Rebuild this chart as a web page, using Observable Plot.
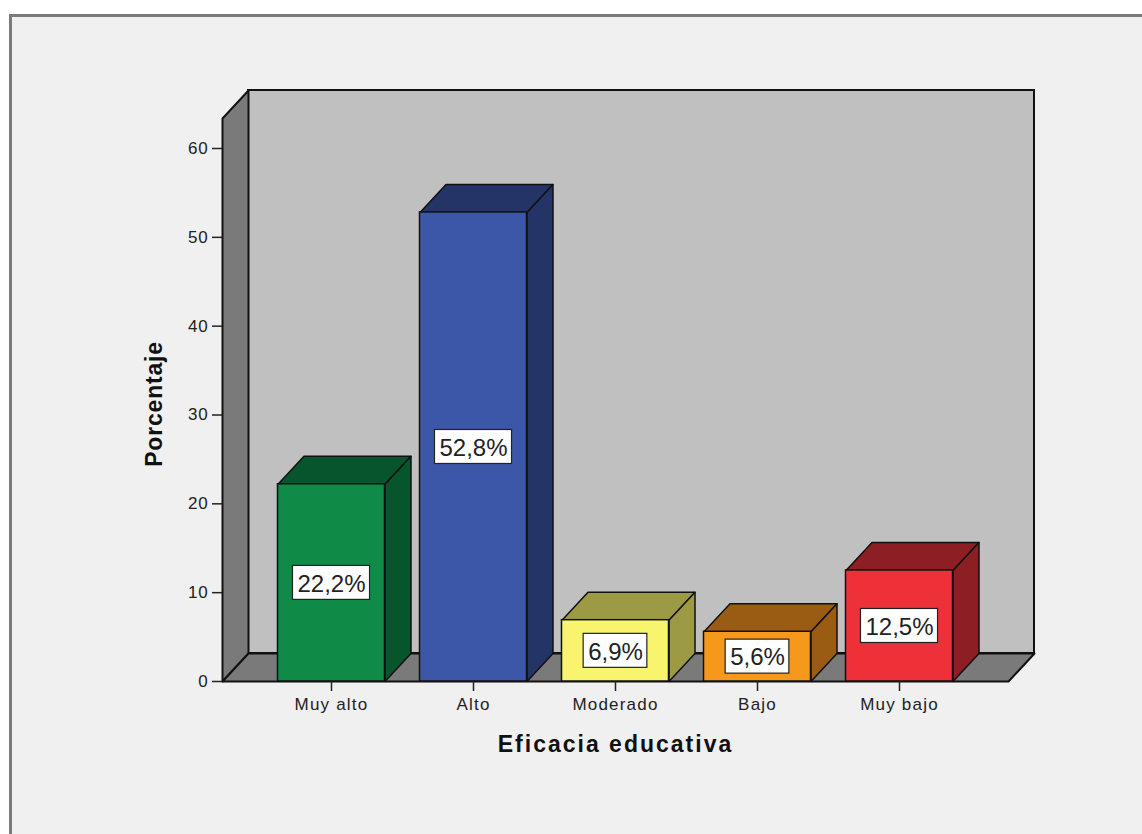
<!DOCTYPE html>
<html>
<head>
<meta charset="utf-8">
<script src="https://cdn.jsdelivr.net/npm/d3@7"></script>
<script src="https://cdn.jsdelivr.net/npm/@observablehq/plot@0.6"></script>
<style>
  html, body { margin: 0; padding: 0; background: #ffffff; overflow: hidden; }
  body { width: 1142px; height: 834px; position: relative; }
  #frame { position: absolute; left: 9px; top: 14px; width: 1200px; height: 900px;
           border-left: 3px solid #7b7b7b; border-top: 3px solid #7b7b7b; background: #f0f0f0; }
  #chart { position: absolute; left: 0; top: 0; }
</style>
</head>
<body>
<div id="frame"></div>
<div id="chart"></div>
<script>
// ---- data ----
const categories = ["Muy alto", "Alto", "Moderado", "Bajo", "Muy bajo"];
const values = [22.2, 52.8, 6.9, 5.6, 12.5];
const yTicks = [0, 10, 20, 30, 40, 50, 60];
const xTitle = "Eficacia educativa";
const yTitle = "Porcentaje";

// ---- styles ----
const frontColors = ["#0f8b47", "#3d57a8", "#f9f46e", "#f5991c", "#ee3039"];
const darkColors  = ["#07552c", "#243467", "#9d9a46", "#995c12", "#8d1e23"];
const wallBack = "#c0c0c0";
const wallSide = "#7a7a7a";

// ---- geometry (in scale units) ----
const xDomain = [-0.7676, 4.7676];
const yDomain = [0, 60];
const pxPerX = 142;            // px per category step
const pxPerY = 533 / 60;       // px per percentage point
const hw = 53.5 / pxPerX;      // half bar width
const dxu = 26 / pxPerX;       // depth offset x
const dyu = 28 / pxPerY;       // depth offset y
const wallTop = 591 / pxPerY;  // top of back wall

const fmt = v => v.toFixed(1).replace(".", ",") + "%";

const bars = categories.map((c, i) => ({i, c, v: values[i], label: fmt(values[i])}));

// faces of bars
const tops = [], sides = [];
bars.forEach(b => {
  const {i, v} = b;
  [[i - hw, v], [i - hw + dxu, v + dyu], [i + hw + dxu, v + dyu], [i + hw, v], [i - hw, v]]
    .forEach(([x, y]) => tops.push({id: i, x, y, color: darkColors[i]}));
  [[i + hw, 0], [i + hw, v], [i + hw + dxu, v + dyu], [i + hw + dxu, dyu], [i + hw, 0]]
    .forEach(([x, y]) => sides.push({id: i, x, y, color: darkColors[i]}));
});

const xL = xDomain[0], xR = xDomain[1];
const sideWall = [[xL, 0], [xL, wallTop - dyu], [xL + dxu, wallTop], [xL + dxu, dyu], [xL, 0]].map(([x, y]) => ({x, y}));
const floor = [[xL, 0], [xL + dxu, dyu], [xR + dxu, dyu], [xR, 0], [xL, 0]].map(([x, y]) => ({x, y}));
const backWall = [{x1: xL + dxu, x2: xR + dxu, y1: dyu, y2: wallTop}];

// label boxes sized from text width
const ctx = document.createElement("canvas").getContext("2d");
ctx.font = "24px 'Liberation Sans'";
const boxes = bars.map(b => {
  const w = ctx.measureText(b.label).width + 9;
  return {x1: b.i - w / 2 / pxPerX, x2: b.i + w / 2 / pxPerX, y1: b.v / 2 - 17 / pxPerY, y2: b.v / 2 + 17 / pxPerY};
});

const chart = Plot.plot({
  width: 1142,
  height: 834,
  marginLeft: 222,
  marginRight: 134,
  marginTop: 148,
  marginBottom: 153,
  style: {background: "transparent", fontFamily: "'Liberation Sans', Arial, sans-serif", overflow: "visible"},
  x: {type: "linear", domain: xDomain},
  y: {type: "linear", domain: yDomain},
  color: {type: "identity"},
  marks: [
    Plot.rect(backWall, {x1: "x1", x2: "x2", y1: "y1", y2: "y2", fill: wallBack, stroke: "#111", strokeWidth: 2}),
    Plot.line(sideWall, {x: "x", y: "y", fill: wallSide, stroke: "#111", strokeWidth: 2}),
    Plot.line(floor, {x: "x", y: "y", fill: wallSide, stroke: "#111", strokeWidth: 2}),
    Plot.line(tops, {x: "x", y: "y", z: "id", fill: "color", stroke: "#111", strokeWidth: 1.5}),
    Plot.line(sides, {x: "x", y: "y", z: "id", fill: "color", stroke: "#111", strokeWidth: 1.5}),
    Plot.rect(bars, {x1: d => d.i - hw, x2: d => d.i + hw, y1: 0, y2: "v", fill: d => frontColors[d.i], stroke: "#111", strokeWidth: 1.5}),
    Plot.rect(boxes, {x1: "x1", x2: "x2", y1: "y1", y2: "y2", fill: "#ffffff", stroke: "#222", strokeWidth: 1.2}),
    Plot.text(bars, {x: "i", y: d => d.v / 2, text: "label", fontSize: 24, fill: "#222", dy: 1}),
    Plot.axisY({ticks: yTicks, tickSize: 10, tickPadding: 4, fontSize: 17, label: null, color: "#222", strokeWidth: 1.5}),
    Plot.axisX({ticks: categories.map((c, i) => i), tickFormat: i => categories[i], tickSize: 10, tickPadding: 6, fontSize: 17, label: null, color: "#222", strokeWidth: 1.5}),
    Plot.text([xTitle], {text: d => d, frameAnchor: "bottom", textAnchor: "middle", lineAnchor: "middle", dy: 63, fontSize: 23, fontWeight: "bold", fill: "#111"}),
    Plot.text([yTitle], {text: d => d, frameAnchor: "left", textAnchor: "middle", lineAnchor: "middle", dx: -68, dy: -11, rotate: -90, fontSize: 23, fontWeight: "bold", fill: "#111"})
  ]
});

chart.querySelectorAll("text").forEach(t => {
  const s = t.textContent;
  if (categories.includes(s)) t.setAttribute("letter-spacing", "1.2px");
  else if (s === xTitle) t.setAttribute("letter-spacing", "2px");
  else if (s === yTitle) t.setAttribute("letter-spacing", "0.8px");
  else if (yTicks.map(String).includes(s)) t.setAttribute("letter-spacing", "0.8px");
});

document.getElementById("chart").append(chart);
</script>
</body>
</html>
